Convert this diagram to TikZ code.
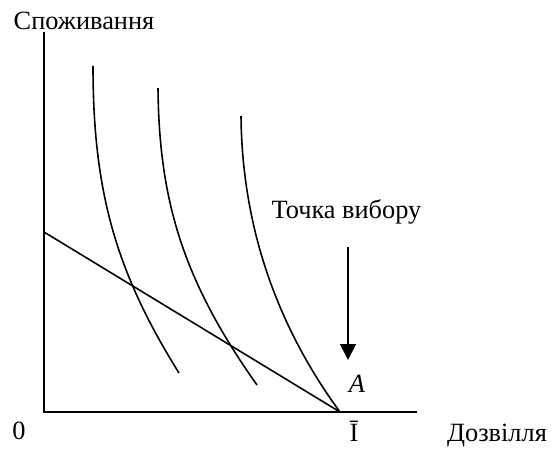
\documentclass[tikz,border=0pt]{standalone}
\usepackage{fontspec}
\setmainfont{Liberation Serif}
\usetikzlibrary{arrows.meta}

\begin{document}
\begin{tikzpicture}[x=0.02cm, y=0.02cm, every node/.style={font=\fontsize{15}{18}\selectfont, inner sep=0pt, anchor=base},
  axis/.style={line width=1.2pt}, icurve/.style={line width=0.9pt}]
\useasboundingbox (-44,-38) rectangle (510,412);
% axes
\coordinate (O) at (0,0);
\coordinate (ytop) at (0,380);
\coordinate (xend) at (373,0);
\draw[axis] (ytop) -- (O) -- (xend);
% budget line
\coordinate (bud) at (0,180);
\coordinate (A) at (296,0);
\draw[icurve] (bud) -- (A);
% indifference curves
\draw[icurve] (49,346) .. controls (49,220) and (72,140) .. (135,39);
\draw[icurve] (114,324) .. controls (115,210) and (140,130) .. (213,27);
\draw[icurve] (197,296) .. controls (198,190) and (230,90) .. (A);
% labels
\node (ylab) at (40,382) {Споживання};
\node (zero) at (-25,-27) {0};
\node (ibar) at (310,-29) {Ī};
\node (xlab) at (453,-29) {Дозвілля};
\node (choice) at (302.5,194) {Точка вибору};
\node (ptA) at (313,20) {\itshape A};
\coordinate (arrtop) at (304,165);
\coordinate (arrtip) at (304,52);
\draw[icurve,-{Triangle[length=9pt,width=9pt]}] (arrtop) -- (arrtip);
\end{tikzpicture}
\end{document}
